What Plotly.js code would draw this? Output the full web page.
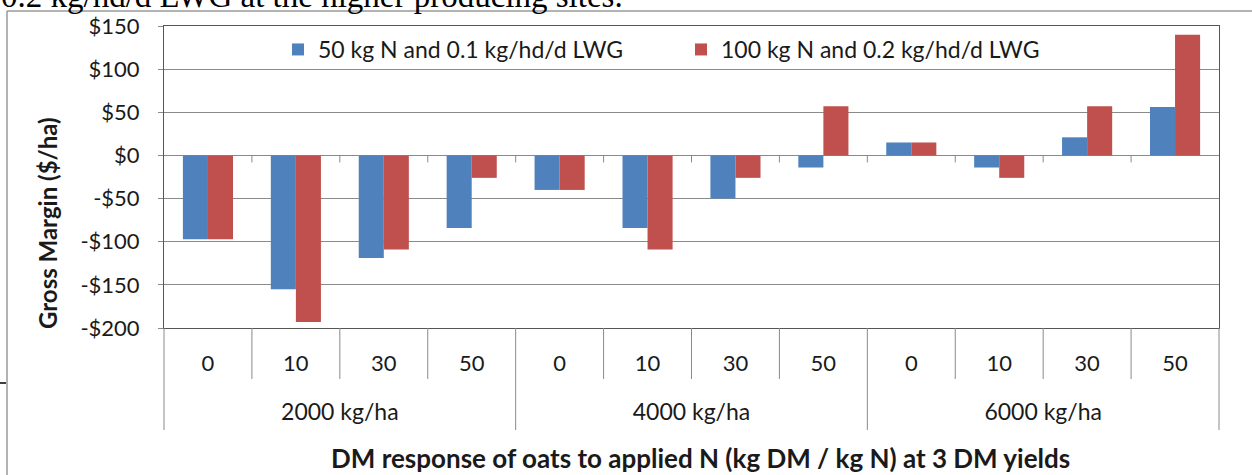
<!DOCTYPE html>
<html><head><meta charset="utf-8">
<script src="https://cdn.plot.ly/plotly-3.0.1.min.js"></script>
<style>body{margin:0;background:#fff}#chart{width:1252px;height:475px}</style>
</head><body><div id="chart"></div>
<script>
// ---- data ----
const yieldGroups = ['2000 kg/ha','2000 kg/ha','2000 kg/ha','2000 kg/ha',
                     '4000 kg/ha','4000 kg/ha','4000 kg/ha','4000 kg/ha',
                     '6000 kg/ha','6000 kg/ha','6000 kg/ha','6000 kg/ha'];
const nResponse = ['0','10','30','50','0','10','30','50','0','10','30','50'];
const series1Name = '50 kg N and 0.1 kg/hd/d LWG';
const series2Name = '100 kg N and 0.2 kg/hd/d LWG';
const series1Values = [-97, -155, -119, -84, -40, -84, -50, -14, 15, -14, 21, 56];
const series2Values = [-97, -193, -109, -26, -40, -109, -26, 57, 15, -26, 57, 140];
const yTickVals = [150, 100, 50, 0, -50, -100, -150, -200];
const yTickText = ['$150','$100','$50','$0','-$50','-$100','-$150','-$200'];
const yTitle = 'Gross Margin ($/ha)';
const xTitle = 'DM response of oats to applied N (kg DM / kg N) at 3 DM yields';
const captionText = '0.2 kg/hd/d LWG at the higher producing sites.';

// ---- derived category positions ----
const n = nResponse.length;
const xIndex = nResponse.map((_, i) => i);
const groupNames = [...new Set(yieldGroups)];
const groupCenters = groupNames.map(g => {
  const idx = xIndex.filter(i => yieldGroups[i] === g);
  return idx.reduce((a, b) => a + b, 0) / idx.length;
});

// ---- layout geometry (pixels) ----
const W = 1252, H = 475, L = 164, R = 1219, T = 26, B = 328;
const pw = R - L, ph = B - T;
const px = x => (x - L) / pw;
const py = y => (B - y) / ph;

const FONT = 'Lato, "Open Sans", sans-serif';
const BLUE = '#4F81BD', RED = '#C0504D';
const GRID = '#8a8a8a', TXT = '#1a1a1a';
const XRANGE = [-0.5, n - 0.5];

const traces = [
  {type:'bar', name: series1Name, x: xIndex, y: series1Values,
   marker:{color: BLUE}, hoverinfo:'skip'},
  {type:'bar', name: series2Name, x: xIndex, y: series2Values,
   marker:{color: RED}, hoverinfo:'skip'},
  {type:'scatter', mode:'markers', x: groupCenters, y: groupCenters.map(() => null),
   xaxis:'x2', yaxis:'y', showlegend:false, hoverinfo:'skip', marker:{opacity:0}}
];

const shapes = [];
for (let i = 0; i <= n; i++) {
  const xp = i / n;
  const isGroupEdge = (i === 0 || i === n || yieldGroups[i] !== yieldGroups[i-1]);
  shapes.push({type:'line', xref:'paper', yref:'paper', ysizemode:'pixel', yanchor:0,
    x0:xp, x1:xp, y0:0, y1: isGroupEdge ? -102 : -51,
    line:{color:GRID, width:1}});
  if (i > 0 && i < n) {
    shapes.push({type:'line', xref:'paper', yref:'y', ysizemode:'pixel', yanchor:0,
      x0:xp, x1:xp, y0:0, y1:-7, line:{color:GRID, width:1}});
  }
}
// outer chart frame
shapes.push({type:'line', xref:'paper', yref:'paper', x0:px(7), x1:px(W+5), y0:py(11), y1:py(11),
  line:{color:'#9a9a9a', width:1.5}});
shapes.push({type:'line', xref:'paper', yref:'paper', x0:px(7), x1:px(7), y0:py(11), y1:py(H+5),
  line:{color:'#9a9a9a', width:1.5}});
// small stray dash at left edge
shapes.push({type:'line', xref:'paper', yref:'paper', x0:px(0), x1:px(6), y0:py(383), y1:py(383),
  line:{color:'#000', width:1.5}});

const annotations = [
  {text: yTitle, xref:'paper', yref:'paper', x:px(47), y:py(223), textangle:-90,
   showarrow:false, font:{family:FONT, size:24, color:TXT, weight:'bold'},
   xanchor:'center', yanchor:'middle'},
  {text: xTitle, xref:'paper', yref:'paper', x:px(700), y:py(458),
   showarrow:false, font:{family:FONT, size:26, color:TXT, weight:'bold'},
   xanchor:'center', yanchor:'middle'},
  {text: captionText, xref:'paper', yref:'paper', x:px(-1), y:py(-4),
   showarrow:false, font:{family:'"Liberation Serif", "Times New Roman", serif', size:33, color:'#000'},
   xanchor:'left', yanchor:'middle'}
];

const layout = {
  width: W, height: H,
  margin: {l: L, r: W - R, t: T, b: H - B, pad: 0},
  paper_bgcolor: '#fff', plot_bgcolor: '#fff',
  font: {family: FONT, size: 22, color: TXT},
  barmode: 'group', bargap: 0.43, bargroupgap: 0,
  showlegend: true,
  legend: {orientation:'h', x: px(278), y: py(28), xanchor:'left', yanchor:'top',
    font:{family:FONT, size:23, color:TXT}, bgcolor:'rgba(0,0,0,0)',
    entrywidth: 358, entrywidthmode:'pixels', traceorder:'normal'},
  xaxis: {type:'linear', range: XRANGE, tickvals: xIndex, ticktext: nResponse,
    showline:true, linecolor:'#555', linewidth:1, mirror:true,
    showgrid:false, ticks:'', ticklabelstandoff:16, tickfont:{family:FONT, size:22, color:TXT},
    automargin:false, zeroline:false, fixedrange:true},
  xaxis2: {type:'linear', overlaying:'x', anchor:'y', side:'bottom', range: XRANGE,
    tickvals: groupCenters, ticktext: groupNames, showline:false, showgrid:false, zeroline:false,
    ticks:'', ticklabelstandoff:68, tickfont:{family:FONT, size:23, color:TXT},
    automargin:false, fixedrange:true},
  yaxis: {range:[-200,150], tickvals:yTickVals, ticktext:yTickText, showline:true, linecolor:'#555',
    linewidth:1, mirror:true, showgrid:true, gridcolor:GRID, gridwidth:1,
    zeroline:true, zerolinecolor:GRID, zerolinewidth:1,
    ticks:'outside', ticklen:5, tickcolor:GRID, ticklabelstandoff:14,
    tickfont:{family:FONT, size:22, color:TXT}, automargin:false, fixedrange:true},
  shapes: shapes,
  annotations: annotations
};

Plotly.newPlot('chart', traces, layout, {displayModeBar:false, staticPlot:true});
</script>
</body></html>
